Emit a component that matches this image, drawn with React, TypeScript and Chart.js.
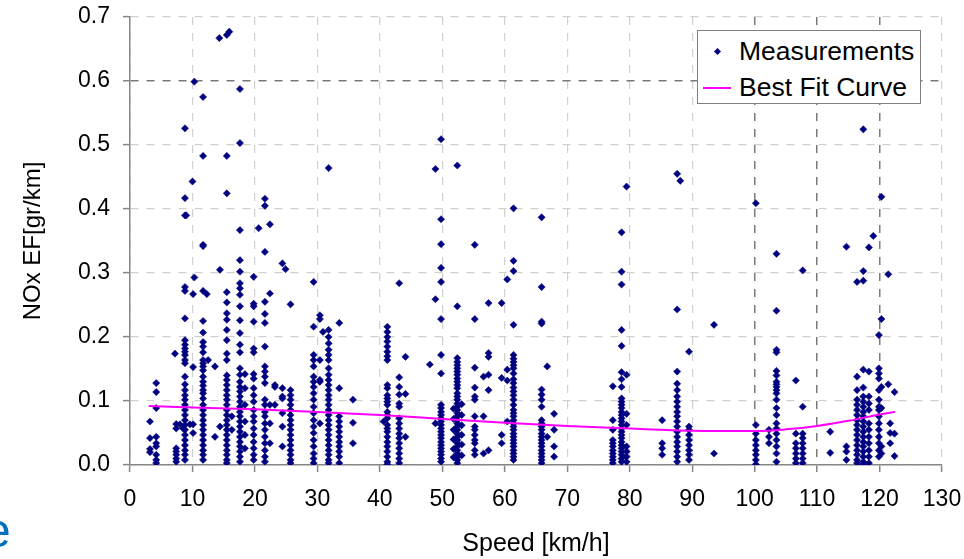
import React, { useEffect, useRef } from "react";
import { Chart, registerables } from "chart.js";

Chart.register(...registerables);

// ---- axis ticks ----
const xTickValues = [0, 10, 20, 30, 40, 50, 60, 70, 80, 90, 100, 110, 120, 130];
const yTickValues = [0, 0.1, 0.2, 0.3, 0.4, 0.5, 0.6, 0.7];

// ---- best fit curve ----
const fitSpeed = [3, 10, 20, 30, 40, 50, 60, 70, 80, 90, 100, 105, 110, 115, 120, 122.5];
const fitNOx = [0.092, 0.09, 0.087, 0.083, 0.078, 0.072, 0.066, 0.061, 0.057, 0.0536, 0.053, 0.0557, 0.061, 0.069, 0.079, 0.083];

// ---- measurement columns (NOx values at a given speed) ----
const c03_2 = [0.068, 0.042, 0.025, 0.02];
const c04_2 = [0.128, 0.114, 0.089, 0.044, 0.034, 0.029, 0.016, 0.008, 0.003];
const c07_4 = [0.064, 0.057, 0.026, 0.021, 0.016, 0.01, 0.005];
const c08_8 = [0.526, 0.417, 0.39, 0.278, 0.272, 0.229, 0.195, 0.188, 0.182, 0.177, 0.172, 0.164, 0.159, 0.138, 0.126, 0.117, 0.109, 0.102, 0.094, 0.086, 0.078, 0.07, 0.0625, 0.055, 0.047, 0.039, 0.031, 0.023, 0.016, 0.008];
const c11_7 = [0.575, 0.483, 0.344, 0.342, 0.272, 0.225, 0.207, 0.192, 0.185, 0.176, 0.164, 0.159, 0.154, 0.148, 0.138, 0.13, 0.124, 0.117, 0.112, 0.104, 0.094, 0.086, 0.078, 0.07, 0.0625, 0.055, 0.047, 0.039, 0.031, 0.023, 0.016, 0.008];
const c15_5 = [0.672, 0.483, 0.4245, 0.27, 0.254, 0.237, 0.227, 0.211, 0.195, 0.174, 0.164, 0.14, 0.133, 0.125, 0.117, 0.109, 0.102, 0.094, 0.086, 0.078, 0.07, 0.0625, 0.055, 0.047, 0.039, 0.031, 0.023, 0.016, 0.008, 0.003];
const c17_6 = [0.5875, 0.503, 0.367, 0.32, 0.302, 0.284, 0.276, 0.266, 0.248, 0.226, 0.206, 0.188, 0.176, 0.151, 0.141, 0.13, 0.122, 0.115, 0.107, 0.099, 0.091, 0.083, 0.076, 0.068, 0.06, 0.052, 0.044, 0.036, 0.029, 0.021, 0.013, 0.005];
const c18_4 = [0.142, 0.12, 0.094, 0.068, 0.047, 0.026];
const c19_8 = [0.294, 0.252, 0.248, 0.224, 0.182, 0.176, 0.142, 0.135, 0.12, 0.109, 0.099, 0.086, 0.076, 0.068, 0.057, 0.047, 0.036, 0.026, 0.016, 0.008];
const c21_6 = [0.416, 0.405, 0.333, 0.255, 0.236, 0.222, 0.185, 0.154, 0.146, 0.138, 0.128, 0.102, 0.094, 0.083, 0.076, 0.065, 0.055, 0.044, 0.034, 0.023, 0.013, 0.005];
const c22_4 = [0.376, 0.268, 0.094, 0.065, 0.034];
const c23_2 = [0.125, 0.122, 0.094];
const c24_4 = [0.315, 0.12, 0.107, 0.104, 0.081, 0.06, 0.029];
const c25_7 = [0.251, 0.117, 0.109, 0.102, 0.094, 0.086, 0.078, 0.07, 0.0625, 0.055, 0.047, 0.039, 0.031, 0.023, 0.016, 0.008, 0.003];
const c29_4 = [0.286, 0.216, 0.172, 0.164, 0.154, 0.138, 0.13, 0.122, 0.112, 0.102, 0.091, 0.081, 0.07, 0.06, 0.05, 0.039, 0.029, 0.018, 0.01, 0.003];
const c30_4 = [0.234, 0.228, 0.164, 0.133, 0.13, 0.065];
const c31_8 = [0.464, 0.211, 0.2, 0.19, 0.18, 0.172, 0.164, 0.151, 0.141, 0.133, 0.125, 0.117, 0.109, 0.102, 0.094, 0.086, 0.078, 0.07, 0.0625, 0.055, 0.047, 0.039, 0.031, 0.023, 0.016, 0.008, 0.003];
const c33_5 = [0.222, 0.12, 0.076, 0.068, 0.06, 0.052, 0.044, 0.036, 0.029, 0.021, 0.013, 0.003];
const c35_7 = [0.102, 0.066, 0.034];
const c41_2 = [0.216, 0.208, 0.2, 0.193, 0.185, 0.177, 0.17, 0.164, 0.125, 0.12, 0.109, 0.104, 0.099, 0.094, 0.083, 0.078, 0.073, 0.0625, 0.057, 0.052, 0.044, 0.036, 0.029, 0.021, 0.013, 0.005, 0.001];
const c43_1 = [0.284, 0.137, 0.122, 0.11, 0.096, 0.091, 0.073, 0.065, 0.057, 0.049, 0.042, 0.034, 0.026, 0.018, 0.01, 0.003];
const c44_1 = [0.169, 0.111, 0.044];
const c48_9 = [0.4625, 0.259, 0.065];
const c49_8 = [0.509, 0.384, 0.345, 0.308, 0.286, 0.228, 0.172, 0.143, 0.094, 0.089, 0.083, 0.078, 0.073, 0.068, 0.0625, 0.057, 0.052, 0.047, 0.042, 0.036, 0.031, 0.026, 0.021, 0.016, 0.01, 0.005];
const c51_8 = [0.088, 0.072, 0.055, 0.04, 0.025, 0.012];
const c52_4 = [0.468, 0.248, 0.167, 0.161, 0.156, 0.151, 0.146, 0.141, 0.135, 0.13, 0.125, 0.12, 0.112, 0.107, 0.102, 0.096, 0.091, 0.086, 0.081, 0.076, 0.07, 0.065, 0.06, 0.055, 0.049, 0.044, 0.039, 0.034, 0.029, 0.023, 0.018, 0.013, 0.008, 0.003];
const c53_1 = [0.095, 0.078, 0.062, 0.047, 0.032, 0.015];
const c55_2 = [0.344, 0.228, 0.152, 0.121, 0.107, 0.102, 0.076, 0.06, 0.055, 0.047, 0.039, 0.034, 0.023, 0.016];
const c56_6 = [0.138, 0.076, 0.018];
const c57_4 = [0.253, 0.175, 0.169, 0.141, 0.117, 0.023];
const c59_5 = [0.253, 0.136, 0.047, 0.034];
const c60_4 = [0.29, 0.149, 0.132, 0.068];
const c61_4 = [0.401, 0.319, 0.303, 0.219, 0.172, 0.166, 0.161, 0.156, 0.151, 0.143, 0.134, 0.128, 0.121, 0.115, 0.109, 0.102, 0.094, 0.086, 0.081, 0.076, 0.07, 0.065, 0.06, 0.055, 0.049, 0.044, 0.039, 0.034, 0.029, 0.023, 0.018, 0.013, 0.008];
const c65_9 = [0.387, 0.278, 0.224, 0.221, 0.118, 0.11, 0.102, 0.091, 0.07, 0.065, 0.06, 0.055, 0.049, 0.044, 0.039, 0.034, 0.029, 0.023, 0.018, 0.013, 0.008, 0.003];
const c66_8 = [0.154, 0.044];
const c67_9 = [0.08, 0.055, 0.029, 0.013];
const c77_3 = [0.123, 0.07, 0.055, 0.039, 0.034, 0.029, 0.023, 0.018, 0.013, 0.008, 0.003];
const c78_7 = [0.3635, 0.302, 0.282, 0.211, 0.186, 0.145, 0.134, 0.122, 0.104, 0.099, 0.094, 0.089, 0.083, 0.078, 0.073, 0.068, 0.0625, 0.057, 0.052, 0.047, 0.042, 0.036, 0.031, 0.026, 0.021, 0.016, 0.01, 0.005];
const c79_5 = [0.435, 0.141, 0.08, 0.0625, 0.029, 0.021, 0.013, 0.005];
const c85_2 = [0.07, 0.034, 0.026, 0.016];
const c87_6 = [0.455, 0.243, 0.146, 0.127, 0.117, 0.107, 0.099, 0.091, 0.083, 0.076, 0.068, 0.06, 0.052, 0.044, 0.036, 0.029, 0.021, 0.013, 0.005];
const c88_1 = [0.444];
const c89_5 = [0.177, 0.06, 0.055, 0.047, 0.039, 0.031, 0.023, 0.016, 0.008];
const c93_5 = [0.219, 0.018];
const c100_2 = [0.409, 0.0625, 0.049, 0.039, 0.031, 0.023, 0.016, 0.008, 0.001];
const c102_3 = [0.055, 0.044, 0.034];
const c103_5 = [0.33, 0.241, 0.18, 0.176, 0.147, 0.14, 0.13, 0.126, 0.122, 0.117, 0.112, 0.102, 0.089, 0.078, 0.065, 0.057, 0.049, 0.039, 0.029, 0.018, 0.005];
const c106_6 = [0.132, 0.049, 0.034, 0.026, 0.018, 0.01, 0.003];
const c107_7 = [0.304, 0.091, 0.049, 0.042, 0.034, 0.026, 0.018, 0.01, 0.003];
const c112_1 = [0.052, 0.019];
const c114_7 = [0.341, 0.029, 0.021, 0.008];
const c116_4 = [0.286, 0.138, 0.117, 0.102, 0.094, 0.086, 0.078, 0.07, 0.0625, 0.055, 0.047, 0.039, 0.031, 0.023, 0.016, 0.008, 0.003];
const c117_4 = [0.5245, 0.303, 0.288, 0.149, 0.121, 0.107, 0.099, 0.091, 0.083, 0.076, 0.068, 0.06, 0.052, 0.044, 0.036, 0.029, 0.021, 0.013, 0.005, 0.001];
const c118_3 = [0.34, 0.146, 0.107, 0.096, 0.086, 0.065, 0.055, 0.044, 0.034, 0.023, 0.013, 0.003];
const c119_0 = [0.358];
const c119_9 = [0.203, 0.151, 0.143, 0.135, 0.117, 0.102, 0.091, 0.086, 0.076, 0.065, 0.055, 0.044, 0.034, 0.023, 0.013];
const c120_3 = [0.419, 0.228, 0.122, 0.089, 0.029, 0.018];
const c121_4 = [0.298, 0.126];
const c121_7 = [0.065, 0.05, 0.034];
const c122_4 = [0.114, 0.049, 0.014];

// isolated measurements
const sparseSpeed = [7.2, 8.0, 8.5, 9.0, 9.6, 10.1, 10.1, 10.1, 10.1, 10.3, 10.3, 10.0, 12.3, 12.5, 13.6, 13.6, 14.4, 14.4, 14.3, 15.9, 16.3, 16.3, 20.6, 24.9, 30.9, 40.6, 48.0];
const sparseNOx = [0.174, 0.0635, 0.057, 0.39, 0.0635, 0.0635, 0.05, 0.153, 0.267, 0.293, 0.599, 0.443, 0.267, 0.164, 0.154, 0.044, 0.06, 0.305, 0.667, 0.677, 0.076, 0.055, 0.37, 0.306, 0.208, 0.068, 0.157];

const columnSpeeds = [3.2, 4.2, 7.4, 8.8, 11.7, 15.5, 17.6, 18.4, 19.8, 21.6, 22.4, 23.2, 24.4, 25.7, 29.4, 30.4, 31.8, 33.5, 35.7, 41.2, 43.1, 44.1, 48.9, 49.8, 51.8, 52.4, 53.1, 55.2, 56.6, 57.4, 59.5, 60.4, 61.4, 65.9, 66.8, 67.9, 77.3, 78.7, 79.5, 85.2, 87.6, 88.1, 89.5, 93.5, 100.2, 102.3, 103.5, 106.6, 107.7, 112.1, 114.7, 116.4, 117.4, 118.3, 119.0, 119.9, 120.3, 121.4, 121.7, 122.4];
const columnValues = [c03_2, c04_2, c07_4, c08_8, c11_7, c15_5, c17_6, c18_4, c19_8, c21_6, c22_4, c23_2, c24_4, c25_7, c29_4, c30_4, c31_8, c33_5, c35_7, c41_2, c43_1, c44_1, c48_9, c49_8, c51_8, c52_4, c53_1, c55_2, c56_6, c57_4, c59_5, c60_4, c61_4, c65_9, c66_8, c67_9, c77_3, c78_7, c79_5, c85_2, c87_6, c88_1, c89_5, c93_5, c100_2, c102_3, c103_5, c106_6, c107_7, c112_1, c114_7, c116_4, c117_4, c118_3, c119_0, c119_9, c120_3, c121_4, c121_7, c122_4];

const FONT = "'Liberation Sans', Arial, sans-serif";
const NAVY = "#000080";
const MAGENTA = "#FF00FF";

export default function App() {
  const ref = useRef<HTMLCanvasElement | null>(null);

  useEffect(() => {
    const canvas = ref.current;
    if (!canvas) return;

    const points: { x: number; y: number }[] = [];
    columnSpeeds.forEach((s, i) => {
      columnValues[i].forEach((v) => points.push({ x: s, y: v }));
    });
    sparseSpeed.forEach((s, i) => points.push({ x: s, y: sparseNOx[i] }));
    const fit = fitSpeed.map((s, i) => ({ x: s, y: fitNOx[i] }));

    const isDarkX = (v: number) => v === 100 || v === 110 || v === 120;
    const isDarkY = (v: number) => Math.abs(v - 0.6) < 1e-6;

    const chart = new Chart(canvas, {
      type: "scatter",
      data: {
        datasets: [
          {
            type: "line",
            label: "Best Fit Curve",
            data: fit,
            borderColor: MAGENTA,
            backgroundColor: MAGENTA,
            borderWidth: 2,
            pointRadius: 0,
            fill: false,
            cubicInterpolationMode: "monotone",
            order: 0,
          } as any,
          {
            label: "Measurements",
            data: points,
            pointStyle: "rectRot",
            pointRadius: 3.6,
            pointBorderWidth: 0.5,
            backgroundColor: NAVY,
            borderColor: NAVY,
            order: 1,
          },
        ],
      },
      options: {
        animation: false,
        responsive: false,
        devicePixelRatio: 1,
        layout: { padding: { left: 0, right: 22, top: 17, bottom: 0 } },
        plugins: {
          legend: { display: false },
          tooltip: { enabled: false },
        },
        scales: {
          x: {
            type: "linear",
            min: 0,
            max: 130,
            afterBuildTicks: (scale: any) => {
              scale.ticks = xTickValues.map((v) => ({ value: v }));
            },
            afterFit: (scale: any) => {
              scale.height = 94;
              scale.paddingLeft = 0;
              scale.paddingRight = 0;
            },
            ticks: {
              color: "#000",
              font: { family: FONT, size: 23, lineHeight: 1.2 },
              padding: 14,
              callback: (v: any) => String(v),
            },
            grid: {
              color: (ctx: any) => (ctx.tick && isDarkX(ctx.tick.value) ? "#7a7a7a" : "#d0d0d0"),
              lineWidth: (ctx: any) => (ctx.tick && isDarkX(ctx.tick.value) ? 1.5 : 1.2),
              tickColor: "#868686",
              tickLength: 7,
              tickWidth: 1.5,
              tickBorderDash: [],
              borderDash: [8, 8],
            } as any,
            border: { display: true, color: "#868686", width: 1.5, dash: [8, 8] } as any,
            title: {
              display: true,
              text: "Speed [km/h]",
              color: "#000",
              font: { family: FONT, size: 25, lineHeight: 1.2 },
              padding: { top: 0, bottom: 0 },
            },
          },
          y: {
            type: "linear",
            min: 0,
            max: 0.7,
            afterBuildTicks: (scale: any) => {
              scale.ticks = yTickValues.map((v) => ({ value: v }));
            },
            afterFit: (scale: any) => {
              scale.width = 130;
              scale.paddingTop = 0;
              scale.paddingBottom = 0;
            },
            ticks: {
              color: "#000",
              font: { family: FONT, size: 23, lineHeight: 1.2 },
              padding: 13,
              callback: (v: any) => Number(v).toFixed(1),
            },
            grid: {
              color: (ctx: any) => (ctx.tick && isDarkY(ctx.tick.value) ? "#7a7a7a" : "#d0d0d0"),
              lineWidth: (ctx: any) => (ctx.tick && isDarkY(ctx.tick.value) ? 1.5 : 1.2),
              tickColor: "#868686",
              tickLength: 7,
              tickWidth: 1.5,
              tickBorderDash: [],
              borderDash: [8, 8],
            } as any,
            border: { display: true, color: "#868686", width: 1.5, dash: [8, 8] } as any,
            title: {
              display: true,
              text: "NOx EF[gr/km]",
              color: "#000",
              font: { family: FONT, size: 24, lineHeight: 1.2 },
              padding: { top: 19, bottom: 0 },
            },
          },
        },
      } as any,
    });

    return () => chart.destroy();
  }, []);

  return (
    <div
      style={{
        position: "fixed",
        left: 0,
        top: 0,
        width: 964,
        height: 559,
        overflow: "hidden",
        background: "#fff",
      }}
    >
      <canvas ref={ref} width={964} height={559} style={{ display: "block", width: 964, height: 559 }} />
      {/* legend */}
      <div
        style={{
          position: "absolute",
          left: 697,
          top: 30,
          width: 222,
          height: 72,
          border: "1.5px solid #7f7f7f",
          background: "#fff",
          fontFamily: FONT,
          fontSize: 26.5,
          color: "#000",
        }}
      >
        <div
          style={{
            position: "absolute",
            left: 17,
            top: 18,
            width: 5,
            height: 5,
            background: NAVY,
            transform: "rotate(45deg)",
          }}
        />
        <div style={{ position: "absolute", left: 41, top: 5, lineHeight: "30px", whiteSpace: "nowrap" }}>
          Measurements
        </div>
        <div
          style={{
            position: "absolute",
            left: 5,
            top: 56,
            width: 28,
            height: 2,
            background: MAGENTA,
          }}
        />
        <div style={{ position: "absolute", left: 41, top: 41, lineHeight: "30px", whiteSpace: "nowrap" }}>
          Best Fit Curve
        </div>
      </div>
      {/* cropped fragment of surrounding page text */}
      <span
        style={{
          position: "absolute",
          left: -16,
          top: 507,
          fontFamily: FONT,
          fontSize: 48,
          lineHeight: "48px",
          color: "#0070C0",
        }}
      >
        e
      </span>
    </div>
  );
}
